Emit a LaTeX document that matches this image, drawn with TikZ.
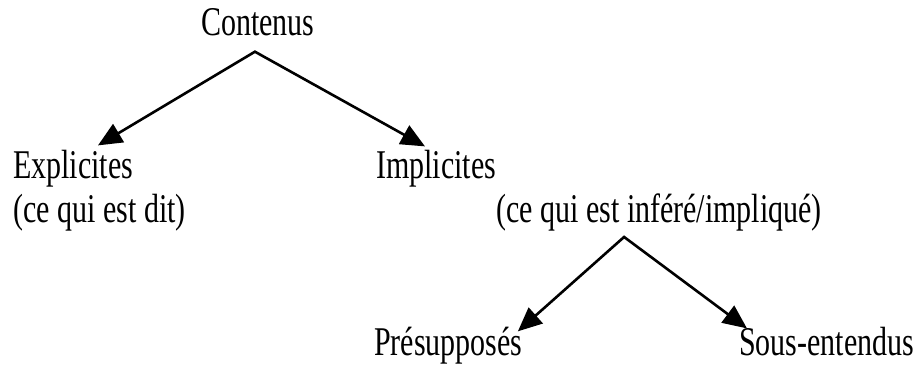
\documentclass[tikz,border=0pt]{standalone}
\usepackage{fontspec}
\setmainfont{Liberation Serif}
\usepackage{graphicx}
\usetikzlibrary{arrows.meta}

\newcommand{\etroit}[1]{\scalebox{0.735}[1]{#1}}
\tikzstyle{every node}=[font=\fontsize{40.8}{44}\selectfont, inner sep=0pt, anchor=base west]

\begin{document}
\begin{tikzpicture}[x=1pt, y=1pt, line width=2.6pt,
    fourche/.style={{Triangle[length=24pt,width=21pt]}-{Triangle[length=24pt,width=21pt]}, line join=miter}]
    \useasboundingbox (0,0) rectangle (919,-372);

    % niveau 1
    \node (contenus) at (200,-35) {\etroit{Contenus}};
    \coordinate (sommet1) at ([shift={(-3pt,-15pt)}]contenus.south);

    % niveau 2
    \node (explicites) at (12,-178) {\etroit{Explicites}};
    \node (dit) at (12,-222) {\etroit{(ce qui est dit)}};
    \node (implicites) at (375,-178) {\etroit{Implicites}};
    \node (infere) at (495,-222) {\etroit{(ce qui est inféré/impliqué)}};
    \coordinate (sommet2) at ([shift={(-35pt,-5pt)}]infere.south);

    % niveau 3
    \node (presupposes) at (373,-355) {\etroit{Présupposés}};
    \node (sousentendus) at (738,-355) {\etroit{Sous-entendus}};

    % fleches
    \draw[fourche] ([shift={(86pt,3pt)}]explicites.north west) -- (sommet1)
        -- ([shift={(50pt,2pt)}]implicites.north west);
    \draw[fourche] ([shift={(-6pt,-6pt)}]presupposes.north east) -- (sommet2)
        -- ([shift={(9pt,-3pt)}]sousentendus.north west);
\end{tikzpicture}
\end{document}
